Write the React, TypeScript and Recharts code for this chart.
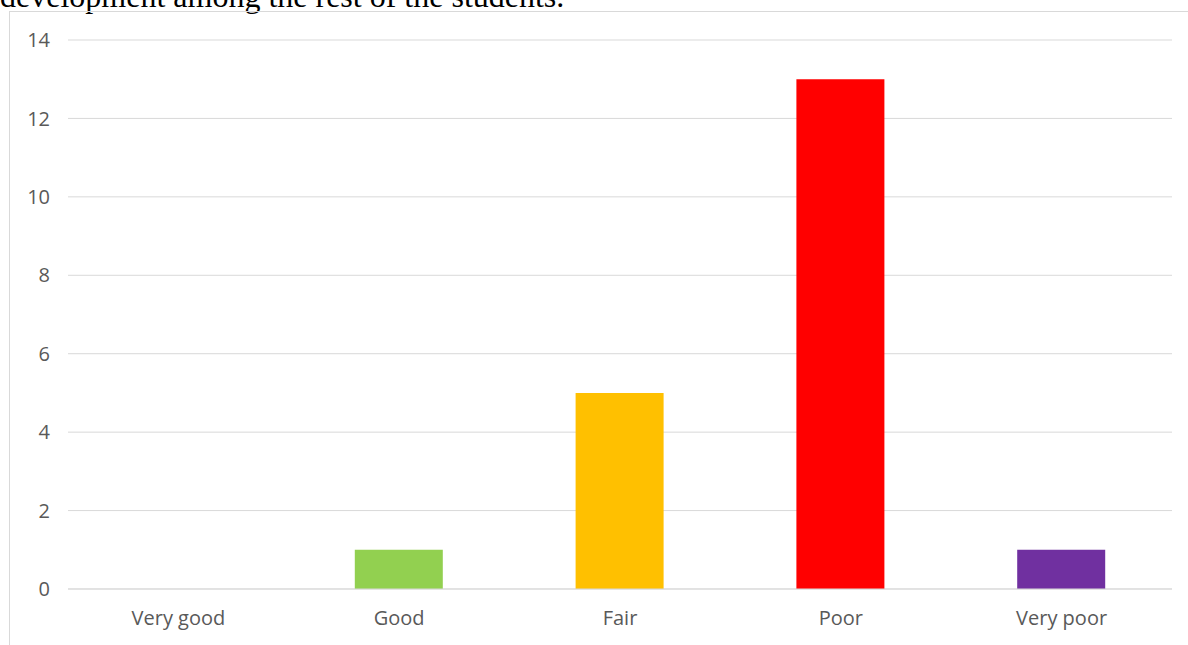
import React from 'react';
import { BarChart, Bar, XAxis, YAxis, CartesianGrid, Cell } from 'recharts';

const categories = ['Very good', 'Good', 'Fair', 'Poor', 'Very poor'];
const counts = [0, 1, 5, 13, 1];
const barColors = ['#4472c4', '#92d050', '#ffc000', '#ff0000', '#7030a0'];
const yTicks = [0, 2, 4, 6, 8, 10, 12, 14];

const data = categories.map((name, i) => ({ name, value: counts[i] }));

const tickStyle = { fill: '#595959', fontSize: 20, fontFamily: 'Open Sans, sans-serif' };

export default function App() {
  return (
    <div style={{ position: 'absolute', left: 0, top: 0, width: 1188, height: 645, overflow: 'hidden', background: '#fff' }}>
      <div
        style={{
          position: 'absolute',
          left: 0,
          top: -22,
          fontFamily: '"Liberation Serif", serif',
          fontSize: 32,
          lineHeight: '36px',
          color: '#000',
          whiteSpace: 'nowrap',
        }}
      >
        development among the rest of the students.
      </div>
      <div
        style={{
          position: 'absolute',
          left: 9,
          top: 11,
          width: 1190,
          height: 650,
          border: '1px solid #d9d9d9',
        }}
      >
        <BarChart
          width={1180}
          height={640}
          data={data}
          margin={{ top: 28, right: 18, left: 0, bottom: 0 }}
          barSize={88}
        >
          <CartesianGrid vertical={false} stroke="#d9d9d9" strokeWidth={1} />
          <XAxis
            dataKey="name"
            axisLine={{ stroke: '#d9d9d9' }}
            tickLine={false}
            tick={tickStyle}
            tickMargin={16}
            height={63}
            interval={0}
          />
          <YAxis
            width={58}
            domain={[0, 14]}
            ticks={yTicks}
            axisLine={false}
            tickLine={false}
            tick={tickStyle}
            dx={-10}
          />
          <Bar dataKey="value" isAnimationActive={false}>
            {data.map((d, i) => (
              <Cell key={d.name} fill={barColors[i]} />
            ))}
          </Bar>
        </BarChart>
      </div>
    </div>
  );
}
